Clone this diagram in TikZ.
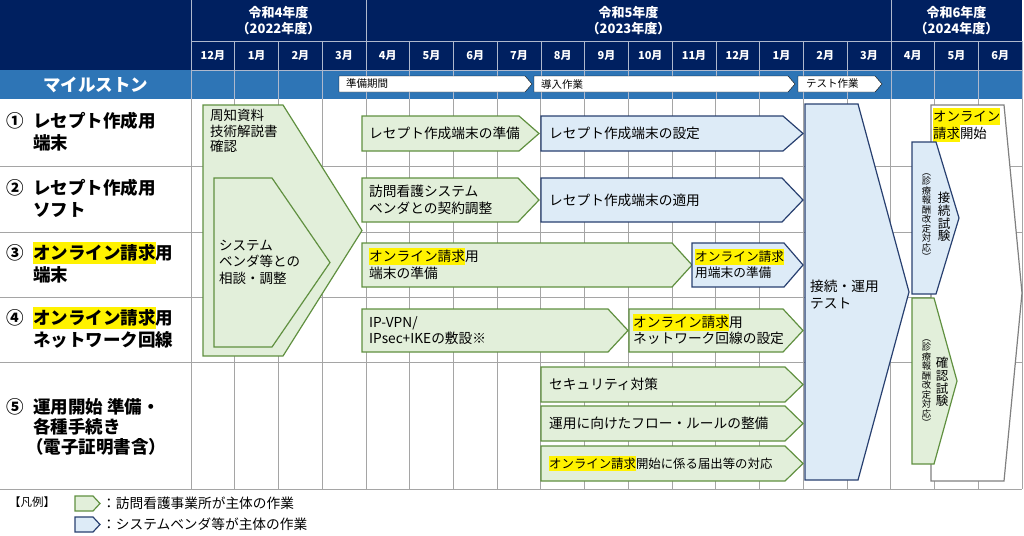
\documentclass[tikz,border=0pt]{standalone}
\usepackage{fontspec}
\setmainfont{Noto Sans CJK JP}
\usetikzlibrary{positioning}

\definecolor{navy}{RGB}{0,32,96}
\definecolor{mileblue}{RGB}{46,117,182}
\definecolor{grnfill}{RGB}{226,239,218}
\definecolor{grnline}{RGB}{96,144,64}
\definecolor{blufill}{RGB}{221,235,247}
\definecolor{bluline}{RGB}{40,64,112}
\definecolor{whtline}{RGB}{128,128,128}
\definecolor{gridgray}{RGB}{165,165,165}
\definecolor{hdrgray}{RGB}{175,185,205}

% yellow marker behind a word
\newcommand{\ylw}[1]{{\fboxsep=0pt\smash{\colorbox{yellow}{\rule[-0.24em]{0pt}{1.24em}#1}}\vphantom{#1}}}
% pentagon arrow: style, left x, tip x, top y, bottom y, tip depth
\newcommand{\taskshape}[6]{%
  \draw[#1] (#2,#4) -- ({#3-#6},#4) -- (#3,{(#4+#5)/2}) -- ({#3-#6},#5) -- (#2,#5) -- cycle;}

\begin{document}
\lineskiplimit=-5pt
\begin{tikzpicture}[x=1pt,y=-1pt,
  grn/.style={draw=grnline, fill=grnfill, line width=1.2pt},
  blu/.style={draw=bluline, fill=blufill, line width=1.2pt},
  wht/.style={draw=whtline, fill=white, line width=1.2pt},
  msbox/.style={fill=white},
  gridln/.style={draw=gridgray, line width=0.9pt},
  hdrln/.style={draw=hdrgray, line width=0.7pt},
  tasktext/.style={font=\fontsize{13.7}{16.5}\selectfont, align=left, inner sep=0pt, anchor=west},
  rowlabel/.style={font=\bfseries\fontsize{17.5}{21.5}\selectfont, align=left, inner sep=0pt, anchor=west},
  yeartext/.style={font=\bfseries\fontsize{13}{16}\selectfont, text=white, align=center, inner sep=0pt},
  monthtext/.style={font=\bfseries\fontsize{11}{13}\selectfont, text=white, inner sep=0pt},
  mstext/.style={font=\fontsize{10.5}{12}\selectfont, inner sep=0pt, anchor=west},
  vbig/.style={font=\fontsize{12.5}{12.6}\selectfont, align=center, inner sep=0pt},
  vsmall/.style={font=\fontsize{9.3}{9.5}\selectfont, align=center, inner sep=0pt},
]
\useasboundingbox (0,0) rectangle (1024,535);

% header
\fill[navy] (0,0) rectangle (1022,70);
\fill[mileblue] (0,70) rectangle (1022,99);
\draw[hdrln] (191,41) -- (1022,41);
\draw[hdrln] (191,70) -- (1022,70);
\foreach \i in {0,...,19}
  \draw[hdrln] ({191+\i*43.74},41) -- ({191+\i*43.74},99);
\foreach \x in {191,366,891}
  \draw[hdrln] (\x,0) -- (\x,41);
\node[yeartext] (y4) at (278.5,21) {令和4年度\\（2022年度）};
\node[yeartext] (y5) at (628.5,21) {令和5年度\\（2023年度）};
\node[yeartext] (y6) at (956.5,21) {令和6年度\\（2024年度）};
\foreach \m [count=\i from 0] in {12,1,2,3,4,5,6,7,8,9,10,11,12,1,2,3,4,5,6}
  \node[monthtext] (m\i) at ({191+(\i+0.5)*43.74},55.5) {\m 月};

% milestones
\node[font=\bfseries\fontsize{17.5}{20}\selectfont, text=white, inner sep=0pt] (mile) at (95.5,84.5) {マイルストン};
\taskshape{msbox}{339}{532}{76}{92}{7}
\taskshape{msbox}{534}{795}{76}{92}{7}
\taskshape{msbox}{798}{882}{76}{92}{7}
\node[mstext] (ms1) at (346,84) {準備期間};
\node[mstext] (ms2) at (541,84) {導入作業};
\node[mstext] (ms3) at (806,84) {テスト作業};

% grid
\foreach \y in {166.5,232,297,362,489}
  \draw[gridln] (0,\y) -- (1022,\y);
\foreach \i in {0,...,19}
  \draw[gridln] ({191+\i*43.74},99) -- ({191+\i*43.74},489);

% row labels
\node[rowlabel] (row1) at (6,131.5) {\makebox[27pt][l]{①}レセプト作成用\\\hspace*{27pt}端末};
\node[rowlabel] (row2) at (6,198.5) {\makebox[27pt][l]{②}レセプト作成用\\\hspace*{27pt}ソフト};
\node[rowlabel] (row3) at (6,264) {\makebox[27pt][l]{③}\ylw{オンライン請求}用\\\hspace*{27pt}端末};
\node[rowlabel] (row4) at (6,329) {\makebox[27pt][l]{④}\ylw{オンライン請求}用\\\hspace*{27pt}ネットワーク回線};
\node[rowlabel, font=\bfseries\fontsize{17.5}{20}\selectfont] (row5) at (6,427)
  {\makebox[27pt][l]{⑤}運用開始 準備・\\\hspace*{27pt}各種手続き\\\hspace*{20pt}（電子証明書含）};

% preparation arrows
\draw[grn] (203,105) -- (283,105) -- (362,230.5) -- (283,356) -- (203,356) -- cycle;
\node[tasktext, anchor=north west, font=\fontsize{13.5}{15.7}\selectfont] (notice) at (210,109) {周知資料\\技術解説書\\確認};
\draw[grn] (214,178) -- (272,178) -- (330,262.5) -- (272,347) -- (214,347) -- cycle;
\node[tasktext, font=\fontsize{13.5}{16.5}\selectfont] (consult) at (219,262) {システム\\ベンダ等との\\相談・調整};

% row 1
\taskshape{grn}{362}{539}{116}{151}{20}
\node[tasktext] (r1a) at (369,133.5) {レセプト作成端末の準備};
\taskshape{blu}{541}{803}{116}{151}{20}
\node[tasktext] (r1b) at (549,133.5) {レセプト作成端末の設定};

% row 2
\taskshape{grn}{362}{539}{178}{222}{21}
\node[tasktext] (r2a) at (369,200) {訪問看護システム\\ベンダとの契約調整};
\taskshape{blu}{541}{803}{178}{222}{21}
\node[tasktext] (r2b) at (549,200) {レセプト作成端末の適用};

% row 3
\taskshape{grn}{362}{692}{243}{287}{20}
\node[tasktext] (r3a) at (369,265) {\ylw{オンライン請求}用\\端末の準備};
\taskshape{blu}{692}{803}{243}{287}{19}
\node[tasktext, font=\fontsize{12.7}{16}\selectfont] (r3b) at (695,265) {\ylw{オンライン請求}\\用端末の準備};

% row 4
\taskshape{grn}{362}{628}{309}{352}{20}
\node[tasktext] (r4a) at (369,330.5) {IP-VPN/\\IPsec+IKEの敷設※};
\taskshape{grn}{629}{803}{309}{352}{20}
\node[tasktext] (r4b) at (633,330.5) {\ylw{オンライン請求}用\\ネットワーク回線の設定};

% row 5
\taskshape{grn}{541}{803}{367}{402}{18}
\node[tasktext] (r5a) at (549,384.5) {セキュリティ対策};
\taskshape{grn}{541}{803}{406}{441}{18}
\node[tasktext] (r5b) at (549,423.5) {運用に向けたフロー・ルールの整備};
\taskshape{grn}{541}{803}{446}{481}{18}
\node[tasktext, font=\fontsize{12.4}{15}\selectfont] (r5c) at (549,463.5) {\ylw{オンライン請求}開始に係る届出等の対応};

% tests
\draw[blu] (805,104) -- (858,104) -- (909,292) -- (858,480) -- (805,480) -- cycle;
\node[tasktext, font=\fontsize{13.7}{17}\selectfont] (optest) at (810,294.5) {接続・運用\\テスト};

\draw[wht] (931,105) -- (1004,105) -- (1022,293) -- (1004,481) -- (931,481) -- cycle;
\node[tasktext, anchor=north west, font=\fontsize{13.4}{17}\selectfont] (start) at (933,111) {\ylw{オンライン}\\\ylw{請求}開始};

\draw[blu] (912,142) -- (936,142) -- (959,218) -- (936,294) -- (912,294) -- cycle;
\node[vsmall] (cnote1) at (926.5,217) {︵\\診\\療\\報\\酬\\改\\定\\対\\応\\︶};
\node[vbig] (conn) at (944,217) {接\\続\\試\\験};
\draw[grn] (912,298) -- (934,298) -- (957,381) -- (934,464) -- (912,464) -- cycle;
\node[vsmall] (cnote2) at (926.5,383) {︵\\診\\療\\報\\酬\\改\\定\\対\\応\\︶};
\node[vbig] (check) at (942,382) {確\\認\\試\\験};

% legend
\node[tasktext, font=\fontsize{11.5}{13}\selectfont] (legend) at (9,502) {【凡例】};
\taskshape{grn}{75}{100}{496}{511}{7}
\node[tasktext] (leg1) at (102,503.5) {：訪問看護事業所が主体の作業};
\taskshape{blu}{75}{100}{517}{532}{7}
\node[tasktext] (leg2) at (102,524.5) {：システムベンダ等が主体の作業};
\end{tikzpicture}
\end{document}
